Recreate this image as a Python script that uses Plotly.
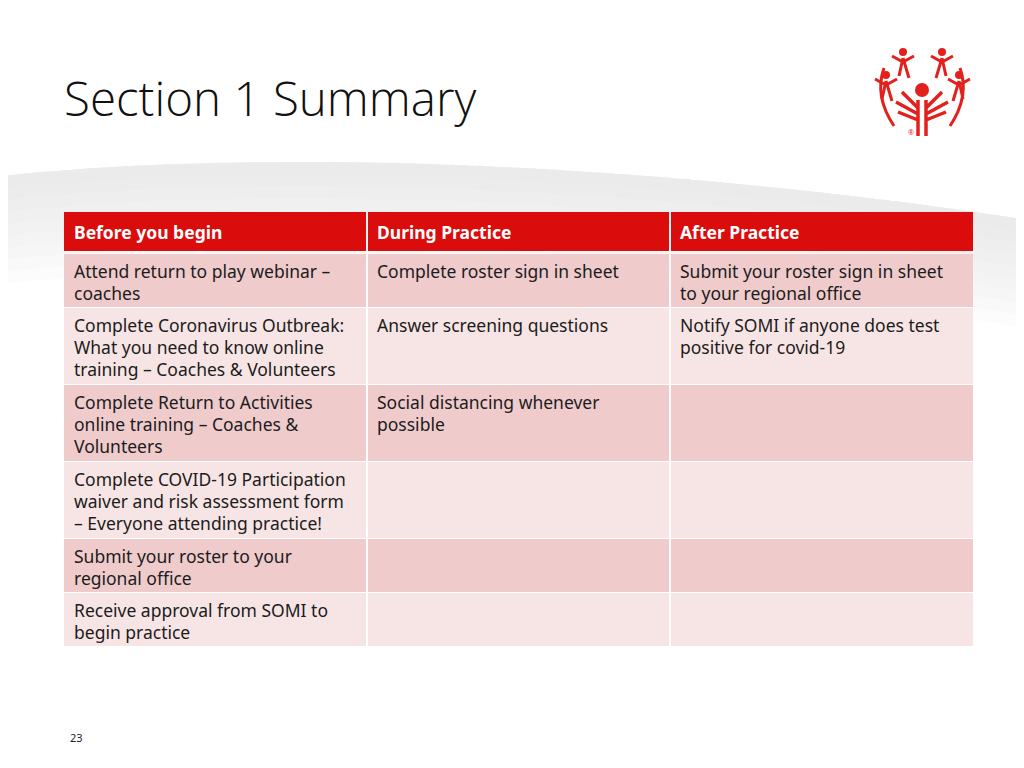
import plotly.graph_objects as go

# ---- table content ----
headers = ["Before you begin", "During Practice", "After Practice"]

before_you_begin = [
    "Attend return to play webinar –<br>coaches",
    "Complete Coronavirus Outbreak:<br>What you need to know online<br>training – Coaches & Volunteers",
    "Complete Return to Activities<br>online training – Coaches &<br>Volunteers",
    "Complete COVID-19 Participation<br>waiver and risk assessment form<br>– Everyone attending practice!",
    "Submit your roster to your<br>regional office",
    "Receive approval from SOMI to<br>begin practice",
]
during_practice = [
    "Complete roster sign in sheet",
    "Answer screening questions",
    "Social distancing whenever<br>possible",
    "",
    "",
    "",
]
after_practice = [
    "Submit your roster sign in sheet<br>to your regional office",
    "Notify SOMI if anyone does test<br>positive for covid-19",
    "",
    "",
    "",
    "",
]

title = "Section 1 Summary"
page_number = "23"

RED = "#DB0C0C"
ROW_DARK = "#EFCBCC"
ROW_LIGHT = "#F7E5E5"
TEXT = "#1c1c1c"
FONT = "Noto Sans"
FS = 17.5

# page is offset by the 8px body margin, so axes are set in page pixels
OFF = 8
W, H = 1024, 768

columns = [before_you_begin, during_practice, after_practice]
col_edges = [64, 367, 670, 973]
header_top, header_h = 212, 39
rows_top = 254
line_gap = 22
pad_x = 8

fig = go.Figure()
shapes = []
annotations = []

# slide background swoosh: stacked translucent bands give a soft fade
for k in range(9):
    d = 12 + k * 12
    shapes.append(dict(
        type="path", xref="x", yref="y", layer="below",
        path=f"M 0,176 C 250,150 620,158 1030,220 L 1030,{220 + d} C 620,{158 + d} 250,{150 + d} 0,{176 + d} Z",
        fillcolor="rgba(230,230,230,0.10)", line=dict(width=0),
    ))

# header
for c, h in enumerate(headers):
    x0 = col_edges[c] + (1 if c > 0 else 0)
    x1 = col_edges[c + 1] - (1 if c < 2 else 0)
    shapes.append(dict(type="rect", xref="x", yref="y", x0=x0, x1=x1,
                       y0=header_top, y1=header_top + header_h,
                       fillcolor=RED, line=dict(width=0)))
    annotations.append(dict(text=f"<b>{h}</b>", x=col_edges[c] + pad_x, y=header_top + header_h / 2,
                            xref="x", yref="y", xanchor="left", yanchor="middle", showarrow=False,
                            font=dict(family=FONT, size=FS, color="white")))

# body rows, height from the number of text lines
top = rows_top
for r in range(len(before_you_begin)):
    n_lines = max(len(col[r].split("<br>")) for col in columns)
    pitch = 8 + 23 * n_lines
    fill = ROW_DARK if r % 2 == 0 else ROW_LIGHT
    for c, col in enumerate(columns):
        x0 = col_edges[c] + (1 if c > 0 else 0)
        x1 = col_edges[c + 1] - (1 if c < 2 else 0)
        shapes.append(dict(type="rect", xref="x", yref="y", x0=x0, x1=x1,
                           y0=top, y1=top + pitch - 1, fillcolor=fill, line=dict(width=0)))
        if col[r]:
            for i, line in enumerate(col[r].split("<br>")):
                annotations.append(dict(text=line, x=col_edges[c] + pad_x, y=top + 17 + line_gap * i,
                                        xref="x", yref="y", xanchor="left", yanchor="middle",
                                        showarrow=False, font=dict(family=FONT, size=FS, color=TEXT)))
    top += pitch

# simplified logo
LOGO = "#E3211C"
cx, cy = 922, 90
shapes += [
    dict(type="circle", xref="x", yref="y", x0=cx - 7, x1=cx + 7, y0=cy - 7, y1=cy + 7,
         fillcolor=LOGO, line=dict(width=0)),
    dict(type="path", xref="x", yref="y",
         path=f"M {cx-4},{cy+10} L {cx-4},{cy+46} M {cx+4},{cy+10} L {cx+4},{cy+46} "
              f"M {cx-4},{cy+18} L {cx-20},{cy+2} M {cx+4},{cy+18} L {cx+20},{cy+2} "
              f"M {cx-4},{cy+24} L {cx-26},{cy+12} M {cx+4},{cy+24} L {cx+26},{cy+12} "
              f"M {cx-4},{cy+30} L {cx-24},{cy+22} M {cx+4},{cy+30} L {cx+24},{cy+22}",
         line=dict(color=LOGO, width=3.5)),
    # outer ring arcs
    dict(type="path", xref="x", yref="y",
         path=f"M {cx-28},{cy+36} Q {cx-48},{cy+6} {cx-38},{cy-22}", line=dict(color=LOGO, width=3)),
    dict(type="path", xref="x", yref="y",
         path=f"M {cx+28},{cy+36} Q {cx+48},{cy+6} {cx+38},{cy-22}", line=dict(color=LOGO, width=3)),
]
# small figures around the ring
for hx, hy, sx in [(903, 52, -1), (942, 52, 1), (886, 75, -1), (959, 75, 1)]:
    shapes.append(dict(type="circle", xref="x", yref="y", x0=hx - 4, x1=hx + 4, y0=hy - 4, y1=hy + 4,
                       fillcolor=LOGO, line=dict(width=0)))
    shapes.append(dict(type="path", xref="x", yref="y",
                       path=f"M {hx-11},{hy+4} L {hx},{hy+10} L {hx+11},{hy+4} "
                            f"M {hx},{hy+6} L {hx - 6*sx},{hy+26} M {hx},{hy+6} L {hx + 4*sx},{hy+24}",
                       line=dict(color=LOGO, width=3)))

annotations += [
    dict(text=title, x=62, y=97, xref="x", yref="y", xanchor="left", yanchor="middle",
         showarrow=False, font=dict(family="Open Sans", size=47.5, color="#111111", weight=300)),
    dict(text=page_number, x=68, y=737, xref="x", yref="y", xanchor="left", yanchor="middle",
         showarrow=False, font=dict(family=FONT, size=11, color="#222222")),
    dict(text="®", x=911, y=132, xref="x", yref="y", showarrow=False,
         font=dict(family=FONT, size=7, color=LOGO)),
]

fig.update_layout(
    width=W - OFF, height=H - OFF,
    margin=dict(l=0, r=0, t=0, b=0),
    paper_bgcolor="white", plot_bgcolor="white",
    xaxis=dict(range=[OFF, W], visible=False, fixedrange=True),
    yaxis=dict(range=[H, OFF], visible=False, fixedrange=True),
    shapes=shapes, annotations=annotations,
    showlegend=False,
)

fig.write_html("out.html")
